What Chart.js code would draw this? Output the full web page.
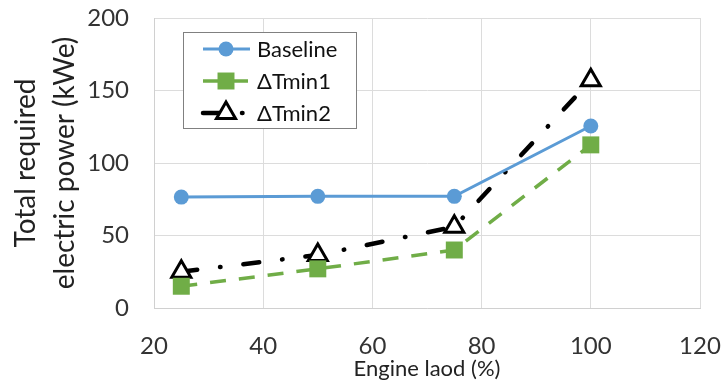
<!DOCTYPE html>
<html>
<head>
<meta charset="utf-8">
<script src="https://cdn.jsdelivr.net/npm/chart.js@4"></script>
<style>
  html, body { margin: 0; padding: 0; background: #fff; }
  canvas { display: block; }
</style>
</head>
<body>
<canvas id="powerChart" width="726" height="387"></canvas>
<script>
const engineLoad = [25, 50, 75, 100];
const baseline = [76.5, 77, 77, 125.5];
const dTmin1 = [15, 27, 40, 112.5];
const dTmin2 = [25, 36.5, 56, 157];
const seriesNames = ["Baseline", "\u0394Tmin1", "\u0394Tmin2"];

const toPts = vals => vals.map((v, i) => ({ x: engineLoad[i], y: v }));
const FONT = "Lato, 'Open Sans', sans-serif";

function marker(ctx, style, x, y, r, fill, stroke, lw) {
  ctx.save();
  ctx.setLineDash([]);
  ctx.fillStyle = fill;
  ctx.strokeStyle = stroke;
  ctx.lineWidth = lw;
  ctx.lineJoin = "miter";
  ctx.beginPath();
  if (style === "circle") {
    ctx.arc(x, y, r, 0, Math.PI * 2);
  } else if (style === "rect") {
    const s = r * Math.SQRT1_2;
    ctx.rect(x - s, y - s, 2 * s, 2 * s);
  } else {
    // same geometry as Chart.js triangle
    let rad = 0;
    ctx.moveTo(x + Math.sin(rad) * r, y - Math.cos(rad) * r);
    rad += Math.PI * 2 / 3;
    ctx.lineTo(x + Math.sin(rad) * r, y - Math.cos(rad) * r);
    rad += Math.PI * 2 / 3;
    ctx.lineTo(x + Math.sin(rad) * r, y - Math.cos(rad) * r);
    ctx.closePath();
  }
  ctx.fill();
  if (lw > 0) ctx.stroke();
  ctx.restore();
}

// legend box drawn inside the plot area, top-left
const insideLegend = {
  id: "insideLegend",
  afterDraw(chart) {
    const ctx = chart.ctx;
    const a = chart.chartArea;
    const bx = a.left + 29, by = a.top + 14, bw = 173, bh = 96;
    ctx.save();
    ctx.fillStyle = "#fff";
    ctx.fillRect(bx, by, bw, bh);
    ctx.strokeStyle = "#808080";
    ctx.lineWidth = 1;
    ctx.strokeRect(bx + 0.5, by + 0.5, bw, bh);
    chart.data.datasets.forEach((ds, i) => {
      const y = by + 17 + i * 32;
      ctx.strokeStyle = ds.borderColor;
      ctx.lineWidth = ds.borderWidth;
      ctx.lineCap = ds.borderCapStyle || "butt";
      ctx.setLineDash(ds.borderDash || []);
      ctx.beginPath();
      ctx.moveTo(bx + 20, y);
      ctx.lineTo(bx + 67, y);
      ctx.stroke();
      marker(ctx, ds.pointStyle, bx + 43, y, ds.pointRadius,
        ds.pointBackgroundColor, ds.pointBorderColor, ds.pointBorderWidth);
      ctx.fillStyle = "#111";
      ctx.font = "22px " + FONT;
      ctx.textBaseline = "middle";
      ctx.fillText(ds.label, bx + 74, y + 1);
    });
    ctx.restore();
  }
};

new Chart(document.getElementById("powerChart"), {
  type: "line",
  data: {
    datasets: [
      {
        label: seriesNames[0],
        data: toPts(baseline),
        borderColor: "#5b9bd5",
        borderWidth: 3,
        pointStyle: "circle",
        pointRadius: 7.5,
        pointBackgroundColor: "#5b9bd5",
        pointBorderColor: "#5b9bd5",
        pointBorderWidth: 0
      },
      {
        label: seriesNames[1],
        data: toPts(dTmin1),
        borderColor: "#70ad47",
        borderWidth: 3.5,
        borderDash: [16, 13],
        pointStyle: "rect",
        pointRadius: 12,
        pointBackgroundColor: "#70ad47",
        pointBorderColor: "#70ad47",
        pointBorderWidth: 0
      },
      {
        label: seriesNames[2],
        data: toPts(dTmin2),
        borderColor: "#000",
        borderWidth: 4.5,
        borderCapStyle: "round",
        borderDash: [16, 23, 0.5, 23],
        pointStyle: "triangle",
        pointRadius: 11,
        pointBackgroundColor: "#fff",
        pointBorderColor: "#000",
        pointBorderWidth: 3
      }
    ]
  },
  options: {
    responsive: false,
    animation: false,
    devicePixelRatio: 1,
    layout: { padding: { top: 18, right: 26, bottom: 0, left: 0 } },
    plugins: { legend: { display: false }, tooltip: { enabled: false } },
    scales: {
      x: {
        type: "linear",
        min: 20, max: 120,
        ticks: { stepSize: 20, color: "#333", font: { family: FONT, size: 24 }, padding: 24 },
        grid: { color: "#dcdcdc", drawTicks: false },
        border: { color: "#d0d0d0" },
        title: { display: true, text: "Engine laod (%)", color: "#222", font: { family: FONT, size: 22 }, padding: { top: 0, bottom: 5 } },
        afterFit: s => { s.height = 79; s.paddingLeft = 0; s.paddingRight = 0; }
      },
      y: {
        min: 0, max: 200,
        ticks: { stepSize: 50, color: "#333", font: { family: FONT, size: 24 }, padding: 25 },
        grid: { color: "#dcdcdc", drawTicks: false },
        border: { color: "#d0d0d0" },
        title: {
          display: true,
          text: ["Total required", "electric power (kWe)"],
          color: "#222",
          font: { family: FONT, size: 28, lineHeight: 1.4 },
          padding: { top: 6, bottom: 0 }
        },
        afterFit: s => { s.width = 154; s.paddingTop = 0; s.paddingBottom = 0; }
      }
    }
  },
  plugins: [insideLegend]
});
</script>
</body>
</html>
